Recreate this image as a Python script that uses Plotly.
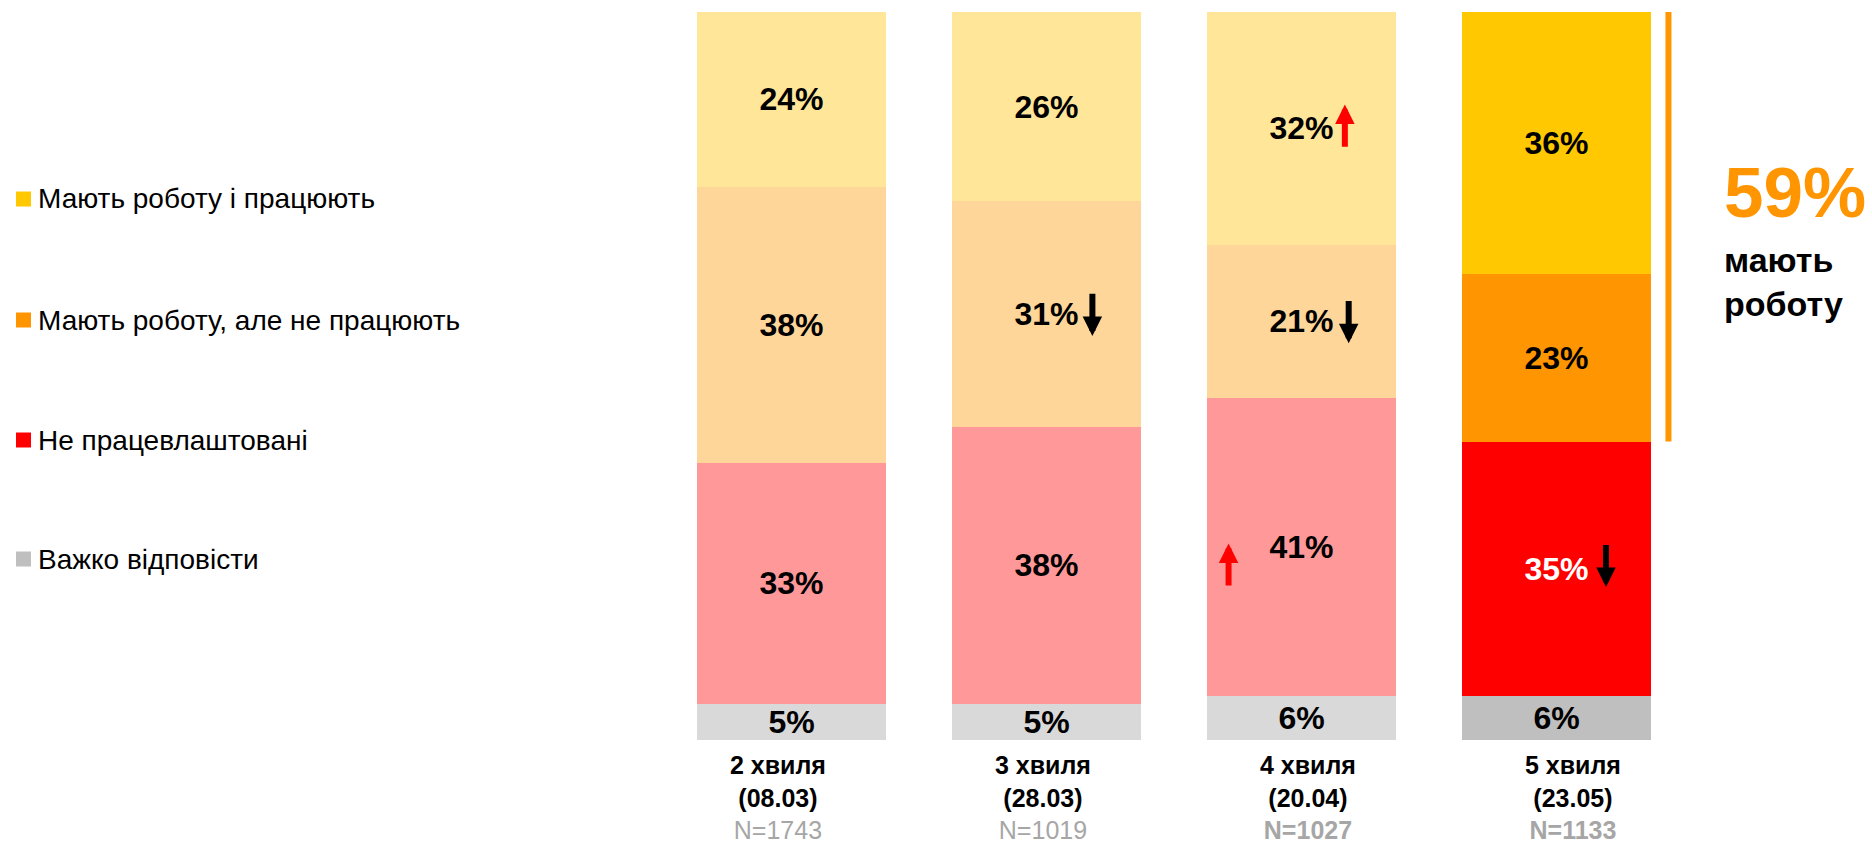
import plotly.graph_objects as go

# ---------------- data ----------------
waves = ["2 хвиля", "3 хвиля", "4 хвиля", "5 хвиля"]
dates = ["(08.03)", "(28.03)", "(20.04)", "(23.05)"]
sample_n = ["N=1743", "N=1019", "N=1027", "N=1133"]
n_bold = [False, False, True, True]

series_names = [
    "Мають роботу і працюють",
    "Мають роботу, але не працюють",
    "Не працевлаштовані",
    "Важко відповісти",
]
working = [24, 26, 32, 36]
employed_not_working = [38, 31, 21, 23]
unemployed = [33, 38, 41, 35]
hard_to_say = [5, 5, 6, 6]

summary_label = "мають<br>роботу"

# change markers: (wave index, series index, dx, dy, direction, colour)
changes = [
    (1, 1, 0.18, 0.0, "down", "#000000"),
    (2, 0, 0.17, 0.3, "up", "#FF0000"),
    (2, 1, 0.185, 0.0, "down", "#000000"),
    (2, 2, -0.286, -2.5, "up", "#FF0000"),
    (3, 2, 0.194, 0.5, "down", "#000000"),
]

# ---------------- style ----------------
FONT = "Liberation Sans, Arial, sans-serif"
faded = ["#FFE699", "#FFD699", "#FF9999", "#D9D9D9"]
strong = ["#FFC800", "#FF9500", "#FF0000", "#BFBFBF"]
W, H = 1872, 847
L, R, T, B = 664, 188, 12, 107
PW, PH = W - L - R, H - T - B


def px_x(p):
    return (p - L) / PW


def px_y(p):
    return 1 - (p - T) / PH


series_values = [working, employed_not_working, unemployed, hard_to_say]
xs = list(range(len(waves)))

fig = go.Figure()
# stack from bottom: grey, red, orange, yellow
for si in [3, 2, 1, 0]:
    vals = series_values[si]
    colors = [faded[si]] * (len(vals) - 1) + [strong[si]]
    tcolors = ["#000000"] * len(vals)
    if si == 2:
        tcolors[-1] = "#FFFFFF"
    fig.add_trace(go.Bar(
        x=xs, y=vals, name=series_names[si],
        marker=dict(color=colors, line=dict(width=0)),
        text=[f"<b>{v}%</b>" for v in vals],
        textposition="inside", insidetextanchor="middle", textangle=0,
        textfont=dict(family=FONT, size=32, color=tcolors),
        hoverinfo="skip", showlegend=False,
    ))

# invisible trace carrying the category labels axis (labels are spread a bit wider than bars)
fig.add_trace(go.Scatter(x=xs, y=[0] * len(xs), xaxis="x2", mode="markers",
                         marker=dict(opacity=0), hoverinfo="skip", showlegend=False))


# segment midpoints
def seg_mid(wi, si):
    below = sum(series_values[k][wi] for k in range(si + 1, 4))
    return below + series_values[si][wi] / 2


annotations = []
for wi, si, dx, dy, direc, col in changes:
    yc = seg_mid(wi, si) + dy
    half = 3.0
    if direc == "up":
        tail, head = yc - half, yc + half
    else:
        tail, head = yc + half, yc - half
    annotations.append(dict(
        x=wi + dx, y=head, ax=wi + dx, ay=tail, xref="x", yref="y",
        axref="x", ayref="y", text="", showarrow=True,
        arrowhead=2, arrowsize=0.65, arrowwidth=6, arrowcolor=col,
    ))

# custom legend
legend_rows = [199, 320, 440, 559]
shapes = []
for i, name in enumerate(series_names):
    yc = legend_rows[i]
    shapes.append(dict(
        type="rect", xref="paper", yref="paper",
        x0=px_x(16), x1=px_x(31), y0=px_y(yc + 7.5), y1=px_y(yc - 7.5),
        fillcolor=strong[i], line=dict(width=0),
    ))
    annotations.append(dict(
        x=px_x(36), y=px_y(yc), xref="paper", yref="paper",
        text=name, showarrow=False, xanchor="left", yanchor="middle",
        font=dict(family=FONT, size=28, color="#000000"),
    ))

# bracket for last wave "have a job"
last = len(waves) - 1
have_job = working[last] + employed_not_working[last]
shapes.append(dict(
    type="line", xref="x", yref="y",
    x0=3.439, x1=3.439, y0=100 - have_job, y1=100.4,
    line=dict(color="#FF9500", width=6),
))
annotations.append(dict(
    x=px_x(1722), y=px_y(192), xref="paper", yref="paper",
    text=f"<b>{have_job}%</b>", showarrow=False, xanchor="left", yanchor="middle",
    font=dict(family=FONT, size=71, color="#FF9500"),
))
annotations.append(dict(
    x=px_x(1722), y=px_y(282), xref="paper", yref="paper",
    text=f"<b>{summary_label}</b>", showarrow=False, xanchor="left", yanchor="middle",
    font=dict(family=FONT, size=34, color="#000000"), align="left",
))

ticktext = []
for w, d, n, nb in zip(waves, dates, sample_n, n_bold):
    ntxt = f"<b>{n}</b>" if nb else n
    ticktext.append(f"<b>{w}<br>{d}</b><br><span style='color:#A6A6A6'>{ntxt}</span>")

fig.update_layout(
    width=W, height=H,
    margin=dict(l=L, r=R, t=T, b=B, pad=0, autoexpand=False),
    barmode="stack", bargap=0.259,
    plot_bgcolor="white", paper_bgcolor="white",
    font=dict(family=FONT),
    uniformtext=dict(mode="show", minsize=32),
    xaxis=dict(
        range=[-0.5, 3.5], tickvals=xs, showticklabels=False,
        showgrid=False, zeroline=False, showline=False, ticks="",
        fixedrange=True, automargin=False,
    ),
    xaxis2=dict(
        overlaying="x", anchor="y", side="bottom",
        range=[-0.430, 3.419], tickvals=xs, ticktext=ticktext,
        tickfont=dict(family=FONT, size=25, color="#000000"),
        showgrid=False, zeroline=False, showline=False,
        ticks="outside", ticklen=3, tickcolor="rgba(0,0,0,0)",
        fixedrange=True, automargin=False,
    ),
    yaxis=dict(range=[0, 100], visible=False, fixedrange=True, automargin=False),
    shapes=shapes, annotations=annotations,
)

fig.write_html(
    "out.html",
    config={"displayModeBar": False},
    post_script="document.body.style.margin='0';document.body.style.overflow='hidden';",
)
